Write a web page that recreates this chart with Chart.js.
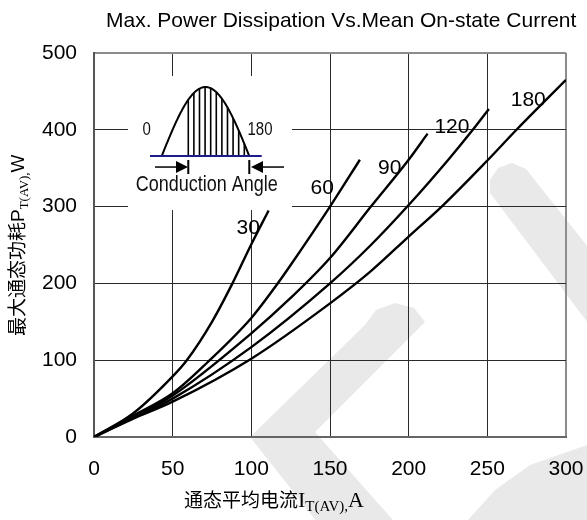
<!DOCTYPE html>
<html><head><meta charset="utf-8">
<script src="https://cdn.jsdelivr.net/npm/chart.js@4.4.0/dist/chart.umd.min.js"></script>
<style>html,body{margin:0;padding:0;background:#fff;}#wrap{width:587px;height:520px;}</style>
</head><body><div id="wrap"><canvas id="c" width="587" height="520"></canvas></div>
<script>
// ---- data ----
const chartTitle = 'Max. Power Dissipation Vs.Mean On-state Current';
const xTicks = [0, 50, 100, 150, 200, 250, 300];
const yTicks = [0, 100, 200, 300, 400, 500];
const angleNames = ['30', '60', '90', '120', '180'];

const current30 = [0, 25, 50, 59, 75, 88, 100, 111];
const power30   = [0, 31, 79, 100, 150, 200, 251, 295];
const current60 = [0, 25, 50, 72, 100, 115, 125, 150, 169];
const power60   = [0, 28, 57, 97, 155, 195, 224, 300, 361];
const current90 = [0, 25, 50, 100, 125, 150, 176, 200, 212];
const power90   = [0, 26, 54, 135, 181, 233, 300, 361, 395];
const current120 = [0, 25, 50, 100, 150, 176, 200, 226, 240, 251];
const power120   = [0, 25, 50, 117, 200, 250, 302, 363, 398, 427];
const current180 = [0, 24, 50, 100, 150, 176, 200, 222, 250, 269, 300];
const power180   = [0, 23, 46, 102, 174, 216, 261, 302, 360, 401, 465];

// anchors (data coords) of the angle labels
const labelX = [98, 145, 188, 227.5, 276];
const labelY = [272, 324, 350, 404, 439];

const seriesX = [current30, current60, current90, current120, current180];
const seriesY = [power30, power60, power90, power120, power180];

const SANS = '"Liberation Sans", Arial, sans-serif';
const SERIF = '"Liberation Serif", "Times New Roman", serif';
const CJK = '"Noto Sans CJK SC", sans-serif';

const datasets = angleNames.map((n, i) => ({
  label: n,
  data: seriesX[i].map((v, k) => ({x: v, y: seriesY[i][k]})),
  borderColor: '#000',
  borderWidth: 2.4,
  pointRadius: 0,
  fill: false,
  cubicInterpolationMode: 'monotone'
}));

function gridColor(max) {
  return ctx => (ctx.tick && ctx.tick.value === max) ? '#8c8c8c' : '#2a2a2a';
}
function gridWidth(max) {
  return ctx => (ctx.tick && ctx.tick.value === max) ? 2 : 1;
}

const deco = {
  id: 'deco',
  beforeDraw(chart) {
    const c = chart.ctx;
    c.save();
    c.fillStyle = '#e9e9e9';
    const polys = [
      [[250,437],[365,325],[376,310],[395,303],[414,308],[425,322],[315,432],[400,528],[322,528]],
      [[490,193],[490,180],[498,168],[512,163],[526,169],[600,262],[600,339]],
      [[468,520],[495,490],[530,465],[587,445],[587,520]]
    ];
    polys.forEach(p => {
      c.beginPath();
      p.forEach((pt, i) => i ? c.lineTo(pt[0], pt[1]) : c.moveTo(pt[0], pt[1]));
      c.closePath();
      c.fill();
    });
    c.restore();
  },
  beforeDatasetsDraw(chart) {
    const c = chart.ctx, xs = chart.scales.x, ys = chart.scales.y;
    const bx = xs.getPixelForValue(21.6), bx2 = xs.getPixelForValue(125.8);
    const by = ys.getPixelForValue(470), by2 = ys.getPixelForValue(295.6);
    c.save();
    c.fillStyle = '#fff';
    c.fillRect(bx, by, bx2 - bx, by2 - by);
    // inset: half-sine waveform with conduction angle
    const base = by + 80, s0 = bx + 33.7, s1 = bx + 121.3, amp = 69;
    const sineY = x => base - amp * Math.sin(Math.PI * (x - s0) / (s1 - s0));
    c.strokeStyle = '#000'; c.lineWidth = 1.6;
    for (let k = 0; k < 11; k++) {
      const hx = bx + 60.3 + k * 5.6;
      if (hx >= s1) break;
      c.beginPath(); c.moveTo(hx, base); c.lineTo(hx, sineY(hx)); c.stroke();
    }
    c.lineWidth = 2;
    c.beginPath();
    for (let x = s0; x <= s1 + 0.01; x += 0.5) {
      x === s0 ? c.moveTo(x, sineY(x)) : c.lineTo(x, sineY(x));
    }
    c.stroke();
    c.strokeStyle = '#1c1c8c'; c.lineWidth = 2;
    c.beginPath(); c.moveTo(bx + 22, base); c.lineTo(bx + 133.7, base); c.stroke();
    const ay = by + 91;
    c.strokeStyle = '#000'; c.fillStyle = '#000'; c.lineWidth = 1.5;
    c.beginPath(); c.moveTo(bx + 27, ay); c.lineTo(bx + 50, ay); c.stroke();
    c.beginPath(); c.moveTo(bx + 48, ay - 6); c.lineTo(bx + 60, ay); c.lineTo(bx + 48, ay + 6); c.closePath(); c.fill();
    c.lineWidth = 2;
    c.beginPath(); c.moveTo(bx + 60.3, ay - 7); c.lineTo(bx + 60.3, ay + 7); c.stroke();
    c.beginPath(); c.moveTo(bx + 121.3, ay - 7); c.lineTo(bx + 121.3, ay + 7); c.stroke();
    c.beginPath(); c.moveTo(bx + 123, ay); c.lineTo(bx + 135, ay - 6); c.lineTo(bx + 135, ay + 6); c.closePath(); c.fill();
    c.lineWidth = 1.5;
    c.beginPath(); c.moveTo(bx + 133, ay); c.lineTo(bx + 156, ay); c.stroke();
    c.fillStyle = '#111'; c.textAlign = 'center'; c.textBaseline = 'middle';
    const stretched = (txt, x, y, size, sy) => {
      c.save(); c.translate(x, y); c.scale(1, sy);
      c.font = size + 'px ' + SANS; c.fillText(txt, 0, 0); c.restore();
    };
    stretched('0', bx + 18.7, by + 54, 15, 1.22);
    stretched('180', bx + 132, by + 54, 15, 1.22);
    stretched('Conduction Angle', bx + 78.7, by + 109, 18, 1.18);
    c.restore();
  },
  afterDatasetsDraw(chart) {
    const c = chart.ctx, xs = chart.scales.x, ys = chart.scales.y;
    c.save();
    c.fillStyle = '#000';
    c.textAlign = 'center'; c.textBaseline = 'middle';
    c.font = '21px ' + SANS;
    angleNames.forEach((n, i) => {
      c.fillText(n, xs.getPixelForValue(labelX[i]), ys.getPixelForValue(labelY[i]));
    });
    c.textAlign = 'left';
    c.font = '21px ' + SANS;
    c.fillText(chartTitle, 106, 21);
    c.textBaseline = 'alphabetic';
    let x = 184; const bl = 507;
    const seg = (t, font, dy) => { c.font = font; c.fillText(t, x, bl + dy); x += c.measureText(t).width; };
    seg('通态平均电流', '19px ' + CJK, 0);
    seg('I', '22px ' + SERIF, 0);
    seg('T(AV),', '15px ' + SERIF, 4);
    seg('A', '22px ' + SERIF, 0);
    c.translate(17, 336);
    c.rotate(-Math.PI / 2);
    x = 0;
    const seg2 = (t, font, dy) => { c.font = font; c.fillText(t, x, 7 + dy); x += c.measureText(t).width; };
    seg2('最大通态功耗', '19px ' + CJK, 0);
    seg2('P', '19px ' + SANS, 0);
    seg2('T(AV),', '13px ' + SERIF, 4);
    seg2('W', '19px ' + SANS, 0);
    c.restore();
  }
};

new Chart(document.getElementById('c'), {
  type: 'line',
  data: { datasets },
  options: {
    responsive: false,
    animation: false,
    devicePixelRatio: 1,
    layout: { padding: { top: 53, right: 21, left: 0, bottom: 0 } },
    plugins: { legend: { display: false }, tooltip: { enabled: false }, title: { display: false } },
    scales: {
      x: {
        type: 'linear', min: 0, max: 300,
        afterBuildTicks: s => { s.ticks = xTicks.map(v => ({ value: v })); },
        afterFit: s => { s.height = 83; s.paddingLeft = 0; s.paddingRight = 0; },
        ticks: { font: { family: SANS, size: 21 }, color: '#000', padding: 20, maxRotation: 0, autoSkip: false },
        grid: { color: gridColor(300), lineWidth: gridWidth(300), drawTicks: false },
        border: { display: true, color: '#666', width: 2 }
      },
      y: {
        type: 'linear', min: 0, max: 500,
        afterBuildTicks: s => { s.ticks = yTicks.map(v => ({ value: v })); },
        afterFit: s => { s.width = 94; s.paddingTop = 0; s.paddingBottom = 0; },
        ticks: { font: { family: SANS, size: 21 }, color: '#000', padding: 17, autoSkip: false },
        grid: { color: gridColor(500), lineWidth: gridWidth(500), drawTicks: false },
        border: { display: true, color: '#555', width: 2 }
      }
    }
  },
  plugins: [deco]
});
</script>
</body></html>
